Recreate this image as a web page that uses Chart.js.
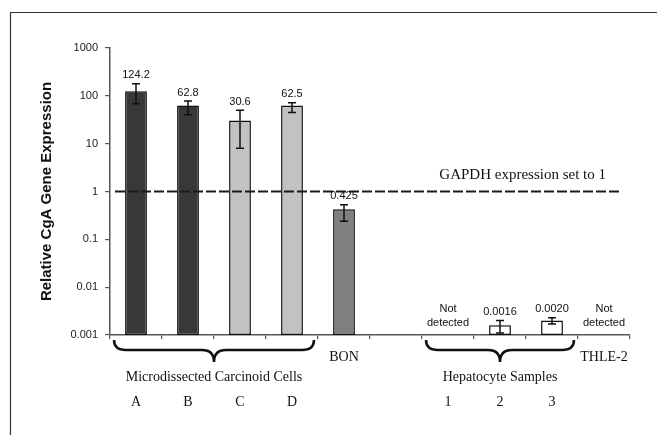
<!DOCTYPE html>
<html>
<head>
<meta charset="utf-8">
<script src="https://cdn.jsdelivr.net/npm/chart.js@4.4.0/dist/chart.umd.min.js"></script>
<style>
  body { margin: 0; background: #fff; }
  canvas { display: block; }
</style>
</head>
<body>
<canvas id="chart" width="657" height="435"></canvas>
<script>
// --- DATOS ---
const categories = ['A', 'B', 'C', 'D', 'BON', '', '1', '2', '3', 'THLE-2'];
const values = [124.2, 62.8, 30.6, 62.5, 0.425, null, null, 0.0016, 0.0020, null];
const errHigh = [178, 78, 50, 72, 0.53, null, null, 0.002, 0.0023, null];
const errLow = [68, 40, 8, 45, 0.24, null, null, 0.0011, 0.0017, null];
const valueLabels = ['124.2', '62.8', '30.6', '62.5', '0.425', '', 'Not detected', '0.0016', '0.0020', 'Not detected'];
const subLabels = ['A', 'B', 'C', 'D', '', '', '1', '2', '3', ''];
const singleLabels = ['', '', '', '', 'BON', '', '', '', '', 'THLE-2'];
const groupNames = ['Microdissected Carcinoid Cells', 'Hepatocyte Samples'];
const groupFrom = [0, 6];
const groupTo = [3, 8];
const barColors = ['#383838', '#383838', '#c2c2c2', '#c2c2c2', '#808080', '#fff', '#fff', '#fff', '#fff', '#fff'];
const tickValues = [0.001, 0.01, 0.1, 1, 10, 100, 1000];
const tickLabels = ['0.001', '0.01', '0.1', '1', '10', '100', '1000'];
const gapdhLevel = 1;
const gapdhText = 'GAPDH expression set to 1';

const SERIF = '"Liberation Serif", "Times New Roman", serif';
const SANS = '"Liberation Sans", Arial, sans-serif';

// --- DIBUJO EXTRA ---
const extras = {
    id: 'extras',
    beforeDraw(chart) {
        const c = chart.ctx;
        c.save();
        c.fillStyle = '#fff';
        c.fillRect(0, 0, chart.width, chart.height);
        c.strokeStyle = '#333';
        c.lineWidth = 1.2;
        c.beginPath();
        c.moveTo(10.5, chart.height);
        c.lineTo(10.5, 12.5);
        c.lineTo(chart.width, 12.5);
        c.stroke();
        c.restore();
    },
    afterDatasetsDraw(chart) {
        const c = chart.ctx;
        const x = chart.scales.x, y = chart.scales.y;
        const area = chart.chartArea;
        const step = x.getPixelForValue(1) - x.getPixelForValue(0);
        c.save();

        // barras de error
        c.strokeStyle = '#111';
        c.lineWidth = 1.5;
        values.forEach((v, i) => {
            if (errHigh[i] == null) return;
            const px = x.getPixelForValue(i);
            const top = y.getPixelForValue(errHigh[i]);
            const bot = y.getPixelForValue(errLow[i]);
            c.beginPath();
            c.moveTo(px, top); c.lineTo(px, bot);
            c.moveTo(px - 4, top); c.lineTo(px + 4, top);
            c.moveTo(px - 4, bot); c.lineTo(px + 4, bot);
            c.stroke();
        });

        // línea GAPDH
        const gy = y.getPixelForValue(gapdhLevel);
        c.setLineDash([10, 3]);
        c.lineWidth = 2;
        c.strokeStyle = '#1a1a1a';
        c.beginPath();
        c.moveTo(area.left + 5, gy);
        c.lineTo(area.right - 10, gy);
        c.stroke();
        c.setLineDash([]);

        c.fillStyle = '#111';
        c.font = '15px ' + SERIF;
        c.textAlign = 'right';
        c.textBaseline = 'middle';
        c.fillText(gapdhText, area.right - 24, gy - 16);

        // etiquetas de valores
        c.font = '11px ' + SANS;
        c.textAlign = 'center';
        valueLabels.forEach((t, i) => {
            if (!t) return;
            const px = x.getPixelForValue(i);
            if (errHigh[i] != null) {
                c.textBaseline = 'bottom';
                c.fillText(t, px, y.getPixelForValue(errHigh[i]) - 3);
            } else {
                c.textBaseline = 'middle';
                const parts = t.split(' ');
                c.fillText(parts[0], px, area.bottom - 26);
                c.fillText(parts[1], px, area.bottom - 12);
            }
        });

        // llaves de grupos
        c.strokeStyle = '#111';
        c.lineWidth = 2.5;
        const y0 = area.bottom + 5, h = 10, t = 12, r = 12;
        groupNames.forEach((name, g) => {
            const x0 = x.getPixelForValue(groupFrom[g]) - step / 2 + 4;
            const x1 = x.getPixelForValue(groupTo[g]) + step / 2 - 4;
            const xm = (x0 + x1) / 2;
            c.beginPath();
            c.moveTo(x0, y0);
            c.quadraticCurveTo(x0, y0 + h, x0 + r, y0 + h);
            c.lineTo(xm - r, y0 + h);
            c.quadraticCurveTo(xm, y0 + h, xm, y0 + h + t);
            c.quadraticCurveTo(xm, y0 + h, xm + r, y0 + h);
            c.lineTo(x1 - r, y0 + h);
            c.quadraticCurveTo(x1, y0 + h, x1, y0);
            c.stroke();
            c.font = '14px ' + SERIF;
            c.textBaseline = 'middle';
            c.fillText(name, xm, area.bottom + 42);
        });

        c.font = '14px ' + SERIF;
        c.textBaseline = 'middle';
        singleLabels.forEach((s, i) => {
            if (s) c.fillText(s, x.getPixelForValue(i), area.bottom + 22);
        });
        subLabels.forEach((s, i) => {
            if (s) c.fillText(s, x.getPixelForValue(i), area.bottom + 67);
        });
        c.restore();
    }
};

new Chart(document.getElementById('chart'), {
    type: 'bar',
    data: {
        labels: categories,
        datasets: [{
            data: values,
            backgroundColor: barColors,
            borderColor: '#111',
            borderWidth: 1.5,
            borderSkipped: false,
            barPercentage: 0.42,
            categoryPercentage: 1
        }]
    },
    options: {
        responsive: false,
        animation: false,
        layout: { padding: { left: 0, top: 48, right: 27, bottom: 0 } },
        plugins: { legend: { display: false }, tooltip: { enabled: false } },
        scales: {
            x: {
                grid: { display: true, drawOnChartArea: false, offset: true, tickLength: 4, color: '#555', lineWidth: 1.2 },
                border: { display: true, color: '#555', width: 1.5 },
                ticks: { display: false },
                afterFit: s => { s.height = 100; }
            },
            y: {
                type: 'logarithmic',
                min: 0.001,
                max: 1000,
                afterBuildTicks: s => { s.ticks = tickValues.map(v => ({ value: v })); },
                afterFit: s => { s.width = 110; },
                ticks: {
                    padding: 7,
                    color: '#222',
                    font: { family: SANS, size: 11 },
                    callback: (v) => tickLabels[tickValues.indexOf(v)] || ''
                },
                grid: { drawOnChartArea: false, tickLength: 5, color: '#555', lineWidth: 1.2 },
                border: { display: true, color: '#555', width: 1.5 },
                title: {
                    display: true,
                    text: 'Relative CgA Gene Expression',
                    color: '#111',
                    font: { family: SANS, size: 15, weight: 'bold' },
                    padding: { top: 38, bottom: 0 }
                }
            }
        }
    },
    plugins: [extras]
});
</script>
</body>
</html>
